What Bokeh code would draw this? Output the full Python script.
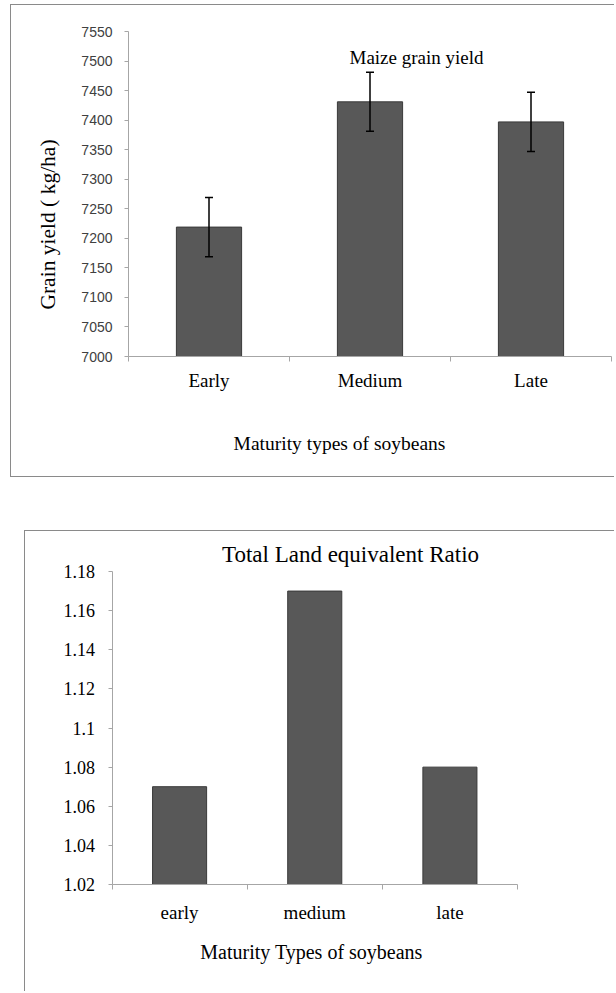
import math
from bokeh.plotting import figure
from bokeh.layouts import column, row
from bokeh.models import (ColumnDataSource, Whisker, TeeHead, Label, FixedTicker,
                          Spacer, Range1d)
from bokeh.embed import file_html
from bokeh.resources import INLINE

# ---------------- data ----------------
yield_categories = ["Early", "Medium", "Late"]
yield_values = [7219, 7431, 7397]
yield_errors = [50, 50, 50]
yield_ticks = [7000, 7050, 7100, 7150, 7200, 7250, 7300, 7350, 7400, 7450, 7500, 7550]

ler_categories = ["early", "medium", "late"]
ler_values = [1.07, 1.17, 1.08]
ler_ticks = [1.02, 1.04, 1.06, 1.08, 1.10, 1.12, 1.14, 1.16, 1.18]
ler_tick_labels = ["1.02", "1.04", "1.06", "1.08", "1.1", "1.12", "1.14", "1.16", "1.18"]

# ---------------- styles / layout ----------------
SERIF = "Liberation Serif"
BAR_FILL = "#585858"
BAR_LINE = "#3a3a3a"
AXIS_COL = "#a6a6a6"
BORDER = "1px solid #8a8a8a"


def lin(px_a, val_a, px_b, val_b):
    s = (val_b - val_a) / (px_b - px_a)
    return lambda px: val_a + (px - px_a) * s


def style_axes(p, xlabel_size, ylabel_font, ylabel_size, ylabel_color, ystandoff, xstandoff):
    xa = p.xaxis[0]
    xa.axis_line_color = AXIS_COL
    xa.major_tick_out = 0
    xa.major_tick_in = 0
    xa.minor_tick_out = 5
    xa.minor_tick_in = 0
    xa.minor_tick_line_color = AXIS_COL
    xa.major_label_text_font = SERIF
    xa.major_label_text_font_size = xlabel_size
    xa.major_label_text_color = "black"
    xa.major_label_standoff = xstandoff
    ya = p.yaxis[0]
    ya.axis_line_color = AXIS_COL
    ya.major_tick_out = 4
    ya.major_tick_in = 0
    ya.major_tick_line_color = AXIS_COL
    ya.minor_tick_line_color = None
    ya.major_label_text_font = ylabel_font
    ya.major_label_text_font_size = ylabel_size
    ya.major_label_text_color = ylabel_color
    ya.major_label_standoff = ystandoff
    p.xgrid.grid_line_color = None
    p.ygrid.grid_line_color = None
    p.outline_line_color = None


# ---------------- top chart ----------------
P1_X, P1_Y, P1_W, P1_H = 10, 4, 604, 473
fx1 = lin(127, 0, 610, len(yield_categories))
fy1 = lin(355, yield_ticks[0], 30, yield_ticks[-1])

n1 = len(yield_categories)
x1 = [i + 0.5 for i in range(n1)]
src1 = ColumnDataSource(dict(
    x=x1, top=yield_values,
    upper=[v + e for v, e in zip(yield_values, yield_errors)],
    lower=[v - e for v, e in zip(yield_values, yield_errors)],
))

p1 = figure(width=P1_W, height=P1_H, output_backend="svg", toolbar_location=None,
            x_range=Range1d(fx1(P1_X), fx1(P1_X + P1_W)),
            y_range=Range1d(fy1(P1_Y + P1_H), fy1(P1_Y)),
            min_border=0,
            styles={"border-left": BORDER, "border-top": BORDER, "border-bottom": BORDER})
p1.vbar(x="x", top="top", bottom=yield_ticks[0], width=0.405, source=src1,
        fill_color=BAR_FILL, line_color=BAR_LINE, line_width=1)
w1 = Whisker(base="x", upper="upper", lower="lower", source=src1, dimension="height",
             line_color="black", line_width=1.5, level="overlay",
             upper_head=TeeHead(size=8, line_color="black", line_width=1.5),
             lower_head=TeeHead(size=8, line_color="black", line_width=1.5))
p1.add_layout(w1)

p1.xaxis.fixed_location = yield_ticks[0]
p1.xaxis.bounds = (0, n1)
p1.xaxis.ticker = FixedTicker(ticks=x1, minor_ticks=list(range(n1 + 1)))
p1.xaxis.major_label_overrides = {x: c for x, c in zip(x1, yield_categories)}
p1.yaxis.fixed_location = 0
p1.yaxis.bounds = (yield_ticks[0], yield_ticks[-1])
p1.yaxis.ticker = FixedTicker(ticks=yield_ticks, minor_ticks=[])
style_axes(p1, "19px", "Liberation Sans", "14px", "#404040", 12, 8)

p1.add_layout(Label(x=fx1(415), y=fy1(56), text="Maize grain yield", text_font=SERIF,
                    text_font_size="19px", text_align="center", text_baseline="middle",
                    text_color="black"))
p1.add_layout(Label(x=fx1(46), y=fy1(223), text="Grain yield ( kg/ha)", angle=math.pi / 2,
                    text_font=SERIF, text_font_size="21.5px", text_align="center",
                    text_baseline="middle", text_color="black"))
p1.add_layout(Label(x=fx1(338), y=fy1(442), text="Maturity types of soybeans",
                    text_font=SERIF, text_font_size="19.5px", text_align="center",
                    text_baseline="middle", text_color="black"))

# ---------------- bottom chart ----------------
P2_X, P2_Y, P2_W, P2_H = 24, 530, 590, 461
fx2 = lin(110.5, 0, 516, len(ler_categories))
fy2 = lin(883, ler_ticks[0], 570, ler_ticks[-1])

n2 = len(ler_categories)
x2 = [i + 0.5 for i in range(n2)]
src2 = ColumnDataSource(dict(x=x2, top=ler_values))

p2 = figure(width=P2_W, height=P2_H, output_backend="svg", toolbar_location=None,
            x_range=Range1d(fx2(P2_X), fx2(P2_X + P2_W)),
            y_range=Range1d(fy2(P2_Y + P2_H), fy2(P2_Y)),
            min_border=0,
            styles={"border-left": BORDER, "border-top": BORDER})
p2.vbar(x="x", top="top", bottom=ler_ticks[0], width=0.4, source=src2,
        fill_color=BAR_FILL, line_color=BAR_LINE, line_width=1)
p2.xaxis.fixed_location = ler_ticks[0]
p2.xaxis.bounds = (0, n2)
p2.xaxis.ticker = FixedTicker(ticks=x2, minor_ticks=list(range(n2 + 1)))
p2.xaxis.major_label_overrides = {x: c for x, c in zip(x2, ler_categories)}
p2.yaxis.fixed_location = 0
p2.yaxis.bounds = (ler_ticks[0], ler_ticks[-1])
p2.yaxis.ticker = FixedTicker(ticks=ler_ticks, minor_ticks=[])
p2.yaxis.major_label_overrides = {t: s for t, s in zip(ler_ticks, ler_tick_labels)}
style_axes(p2, "19px", SERIF, "18px", "black", 13, 12)

p2.add_layout(Label(x=fx2(349), y=fy2(553), text="Total Land equivalent Ratio",
                    text_font=SERIF, text_font_size="23px", text_align="center",
                    text_baseline="middle", text_color="black"))
p2.add_layout(Label(x=fx2(310), y=fy2(950), text="Maturity Types of soybeans",
                    text_font=SERIF, text_font_size="20px", text_align="center",
                    text_baseline="middle", text_color="black"))

layout = column(
    Spacer(height=P1_Y),
    row(Spacer(width=P1_X), p1),
    Spacer(height=P2_Y - P1_Y - P1_H),
    row(Spacer(width=P2_X), p2),
    spacing=0,
)

open("out.html", "w").write(file_html(layout, INLINE))
